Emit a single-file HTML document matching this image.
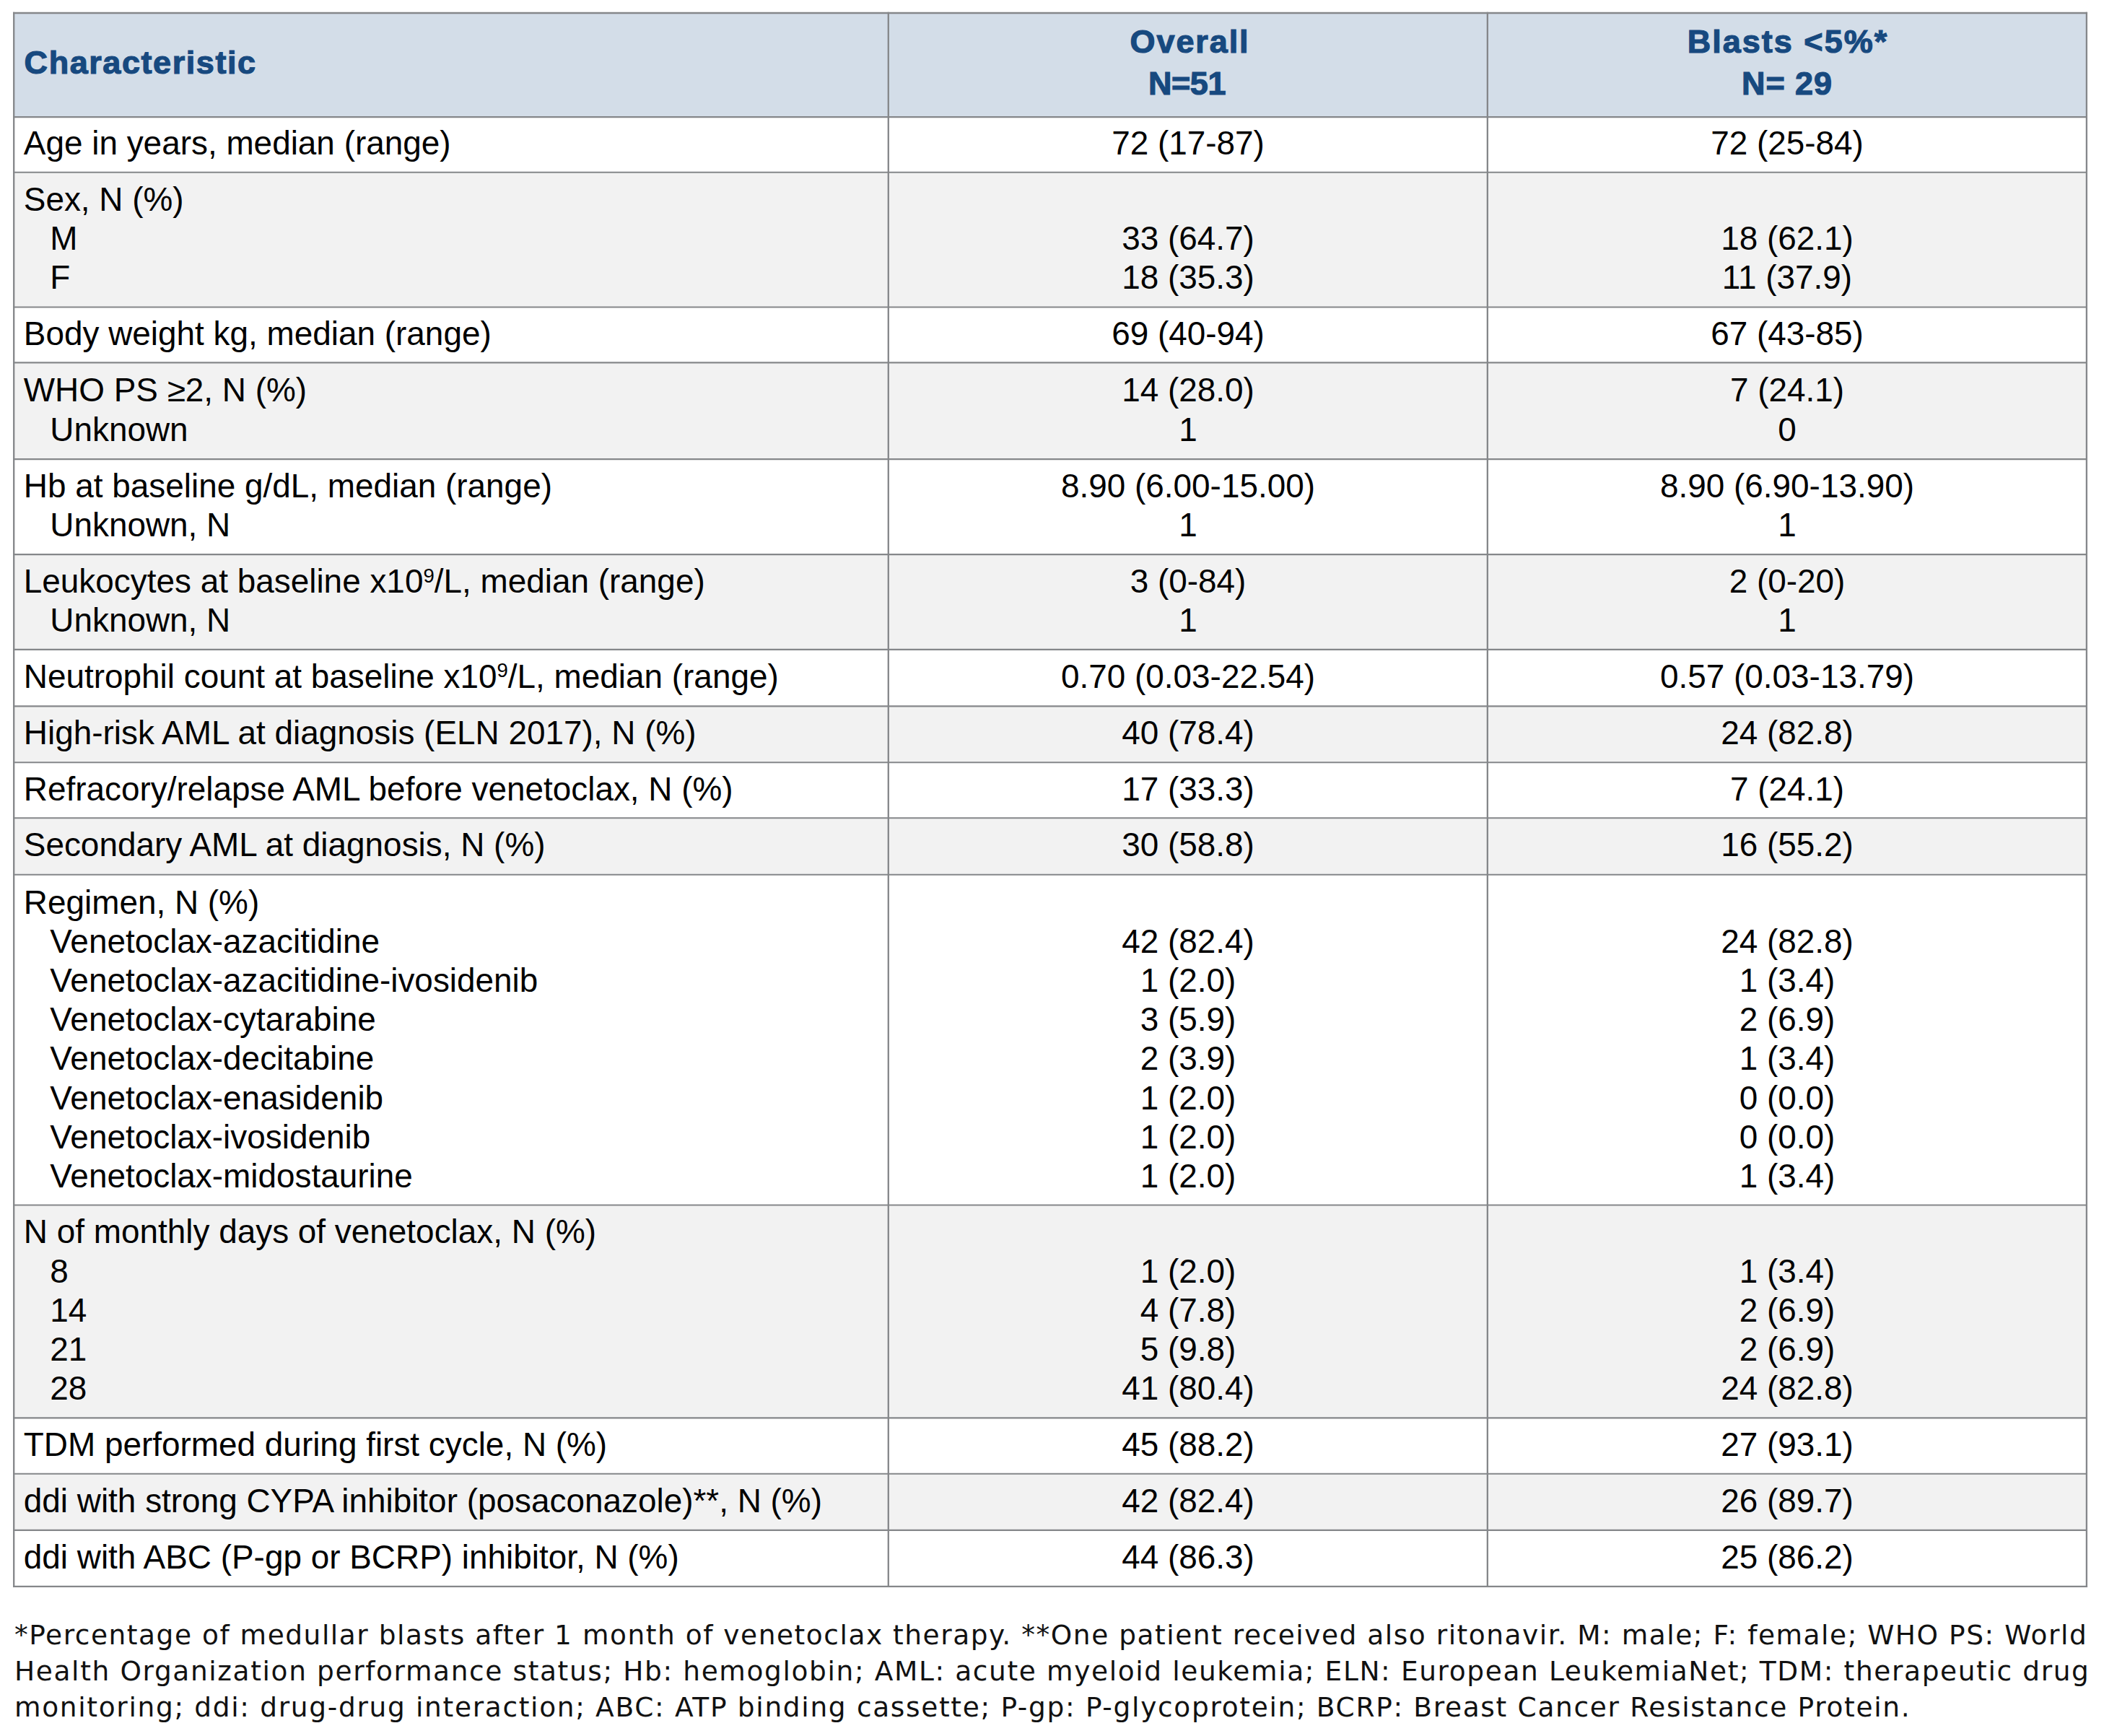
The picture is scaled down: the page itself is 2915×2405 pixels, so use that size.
<!DOCTYPE html>
<html lang="en"><head><meta charset="utf-8"><title>Table 1. Patient characteristics</title>
<style>
html,body{margin:0;padding:0;background:#fff;}
body{width:2915px;height:2405px;position:relative;overflow:hidden;font-family:"Liberation Sans",Arial,Helvetica,sans-serif;color:#000;}
table{position:absolute;left:19px;top:18px;border-collapse:collapse;border-spacing:0;table-layout:fixed;width:2872px;font-size:45.9px;line-height:54.2px;}
td,th{border:0;padding:0;vertical-align:top;white-space:nowrap;overflow:hidden;font-weight:normal;}
td.c,th.c{text-align:center;}
td.l,th.l{text-align:left;padding-left:13.80px;}
tr.g td{background:#f2f2f2;}
thead th{background:#d3dde8;color:#17497f;-webkit-text-stroke:1.2px #17497f;font-weight:bold;font-size:45.0px;line-height:58.0px;}
th.h1{padding-top:39.71px;}
th.h2{padding-top:11.01px;}
.ls1{letter-spacing:1.56px;position:relative;left:0.8px;}
.ls2{letter-spacing:1.9px;position:relative;left:2.5px;}
.ls3{letter-spacing:-0.4px;position:relative;left:-1.5px;}
.ls4{letter-spacing:2.0px;position:relative;left:1px;}
.ls5{letter-spacing:0.9px;}
span.i{padding-left:36.5px;}
sup{font-size:60%;line-height:0;vertical-align:baseline;position:relative;top:-0.52em;}
svg.grid{position:absolute;left:0;top:0;pointer-events:none;}
.fn{position:absolute;left:20.0px;top:2240.22px;width:2880px;font-family:"DejaVu Sans","Liberation Sans",sans-serif;font-size:37.5px;line-height:50.0px;color:#111;white-space:nowrap;margin:0;}
.fn span{display:block;height:50.0px;}
.f1{letter-spacing:1.528px;}
.f2{letter-spacing:1.617px;}
.f3{letter-spacing:1.672px;}
</style></head><body>
<table>
<colgroup><col style="width:1212px"><col style="width:830px"><col style="width:830px"></colgroup>
<thead><tr style="height:144px"><th class="l h1"><span class="ls1">Characteristic</span></th><th class="c h2"><span class="ls2">Overall</span><br><span class="ls3">N=51</span></th><th class="c h2"><span class="ls4">Blasts &lt;5%*</span><br><span class="ls5">N= 29</span></th></tr></thead>
<tbody>
<tr style="height:77px"><td class="l" style="padding-top:8.90px">Age in years, median (range)</td><td class="c" style="padding-top:8.90px">72 (17-87)</td><td class="c" style="padding-top:8.90px">72 (25-84)</td></tr>
<tr class="g" style="height:187px"><td class="l" style="padding-top:9.60px">Sex, N (%)<br><span class="i">M</span><br><span class="i">F</span></td><td class="c" style="padding-top:9.60px">&nbsp;<br>33 (64.7)<br>18 (35.3)</td><td class="c" style="padding-top:9.60px">&nbsp;<br>18 (62.1)<br>11 (37.9)</td></tr>
<tr style="height:76px"><td class="l" style="padding-top:9.40px">Body weight kg, median (range)</td><td class="c" style="padding-top:9.40px">69 (40-94)</td><td class="c" style="padding-top:9.40px">67 (43-85)</td></tr>
<tr class="g" style="height:134px"><td class="l" style="padding-top:11.30px">WHO PS ≥2, N (%)<br><span class="i">Unknown</span></td><td class="c" style="padding-top:11.30px">14 (28.0)<br>1</td><td class="c" style="padding-top:11.30px">7 (24.1)<br>0</td></tr>
<tr style="height:132px"><td class="l" style="padding-top:10.00px">Hb at baseline g/dL, median (range)<br><span class="i">Unknown, N</span></td><td class="c" style="padding-top:10.00px">8.90 (6.00-15.00)<br>1</td><td class="c" style="padding-top:10.00px">8.90 (6.90-13.90)<br>1</td></tr>
<tr class="g" style="height:132px"><td class="l" style="padding-top:10.00px">Leukocytes at baseline x10<sup>9</sup>/L, median (range)<br><span class="i">Unknown, N</span></td><td class="c" style="padding-top:10.00px">3 (0-84)<br>1</td><td class="c" style="padding-top:10.00px">2 (0-20)<br>1</td></tr>
<tr style="height:78px"><td class="l" style="padding-top:9.80px">Neutrophil count at baseline x10<sup>9</sup>/L, median (range)</td><td class="c" style="padding-top:9.80px">0.70 (0.03-22.54)</td><td class="c" style="padding-top:9.80px">0.57 (0.03-13.79)</td></tr>
<tr class="g" style="height:78px"><td class="l" style="padding-top:10.30px">High-risk AML at diagnosis (ELN 2017), N (%)</td><td class="c" style="padding-top:10.30px">40 (78.4)</td><td class="c" style="padding-top:10.30px">24 (82.8)</td></tr>
<tr style="height:77px"><td class="l" style="padding-top:10.10px">Refracory/relapse AML before venetoclax, N (%)</td><td class="c" style="padding-top:10.10px">17 (33.3)</td><td class="c" style="padding-top:10.10px">7 (24.1)</td></tr>
<tr class="g" style="height:79px"><td class="l" style="padding-top:10.10px">Secondary AML at diagnosis, N (%)</td><td class="c" style="padding-top:10.10px">30 (58.8)</td><td class="c" style="padding-top:10.10px">16 (55.2)</td></tr>
<tr style="height:458px"><td class="l" style="padding-top:10.50px">Regimen, N (%)<br><span class="i">Venetoclax-azacitidine</span><br><span class="i">Venetoclax-azacitidine-ivosidenib</span><br><span class="i">Venetoclax-cytarabine</span><br><span class="i">Venetoclax-decitabine</span><br><span class="i">Venetoclax-enasidenib</span><br><span class="i">Venetoclax-ivosidenib</span><br><span class="i">Venetoclax-midostaurine</span></td><td class="c" style="padding-top:10.50px">&nbsp;<br>42 (82.4)<br>1 (2.0)<br>3 (5.9)<br>2 (3.9)<br>1 (2.0)<br>1 (2.0)<br>1 (2.0)</td><td class="c" style="padding-top:10.50px">&nbsp;<br>24 (82.8)<br>1 (3.4)<br>2 (6.9)<br>1 (3.4)<br>0 (0.0)<br>0 (0.0)<br>1 (3.4)</td></tr>
<tr class="g" style="height:294px"><td class="l" style="padding-top:9.40px">N of monthly days of venetoclax, N (%)<br><span class="i">8</span><br><span class="i">14</span><br><span class="i">21</span><br><span class="i">28</span></td><td class="c" style="padding-top:9.40px">&nbsp;<br>1 (2.0)<br>4 (7.8)<br>5 (9.8)<br>41 (80.4)</td><td class="c" style="padding-top:9.40px">&nbsp;<br>1 (3.4)<br>2 (6.9)<br>2 (6.9)<br>24 (82.8)</td></tr>
<tr style="height:78px"><td class="l" style="padding-top:10.30px">TDM performed during first cycle, N (%)</td><td class="c" style="padding-top:10.30px">45 (88.2)</td><td class="c" style="padding-top:10.30px">27 (93.1)</td></tr>
<tr class="g" style="height:78px"><td class="l" style="padding-top:9.60px">ddi with strong CYPA inhibitor (posaconazole)**, N (%)</td><td class="c" style="padding-top:9.60px">42 (82.4)</td><td class="c" style="padding-top:9.60px">26 (89.7)</td></tr>
<tr style="height:78px"><td class="l" style="padding-top:9.80px">ddi with ABC (P-gp or BCRP) inhibitor, N (%)</td><td class="c" style="padding-top:9.80px">44 (86.3)</td><td class="c" style="padding-top:9.80px">25 (86.2)</td></tr>
</tbody></table>
<svg class="grid" width="2915" height="2405" viewBox="0 0 2915 2405"><g stroke="#85878a" fill="none" stroke-linecap="square"><line x1="19.2" y1="18.0" x2="2890.9" y2="18.0" stroke-width="2.3"/><line x1="19.2" y1="162.1" x2="2890.9" y2="162.1" stroke-width="2.1"/><line x1="19.2" y1="238.7" x2="2890.9" y2="238.7" stroke-width="2.1"/><line x1="19.2" y1="425.5" x2="2890.9" y2="425.5" stroke-width="2.1"/><line x1="19.2" y1="502.4" x2="2890.9" y2="502.4" stroke-width="2.1"/><line x1="19.2" y1="636.1" x2="2890.9" y2="636.1" stroke-width="2.1"/><line x1="19.2" y1="768.1" x2="2890.9" y2="768.1" stroke-width="2.1"/><line x1="19.2" y1="899.9" x2="2890.9" y2="899.9" stroke-width="2.1"/><line x1="19.2" y1="978.4" x2="2890.9" y2="978.4" stroke-width="2.1"/><line x1="19.2" y1="1056.2" x2="2890.9" y2="1056.2" stroke-width="2.1"/><line x1="19.2" y1="1133.2" x2="2890.9" y2="1133.2" stroke-width="2.1"/><line x1="19.2" y1="1211.7" x2="2890.9" y2="1211.7" stroke-width="2.1"/><line x1="19.2" y1="1669.5" x2="2890.9" y2="1669.5" stroke-width="2.1"/><line x1="19.2" y1="1964.4" x2="2890.9" y2="1964.4" stroke-width="2.1"/><line x1="19.2" y1="2041.7" x2="2890.9" y2="2041.7" stroke-width="2.1"/><line x1="19.2" y1="2119.9" x2="2890.9" y2="2119.9" stroke-width="2.1"/><line x1="19.2" y1="2197.85" x2="2890.9" y2="2197.85" stroke-width="2.3"/><line x1="19.2" y1="18.0" x2="19.2" y2="2197.85" stroke-width="2.3"/><line x1="1230.8" y1="18.0" x2="1230.8" y2="2197.85" stroke-width="2.3"/><line x1="2060.85" y1="18.0" x2="2060.85" y2="2197.85" stroke-width="2.3"/><line x1="2890.9" y1="18.0" x2="2890.9" y2="2197.85" stroke-width="2.3"/></g></svg>
<p class="fn"><span class="f1">*Percentage of medullar blasts after 1 month of venetoclax therapy. **One patient received also ritonavir. M: male; F: female; WHO PS: World</span><span class="f2">Health Organization performance status; Hb: hemoglobin; AML: acute myeloid leukemia; ELN: European LeukemiaNet; TDM: therapeutic drug</span><span class="f3">monitoring; ddi: drug-drug interaction; ABC: ATP binding cassette; P-gp: P-glycoprotein; BCRP: Breast Cancer Resistance Protein.</span></p>
</body></html>
